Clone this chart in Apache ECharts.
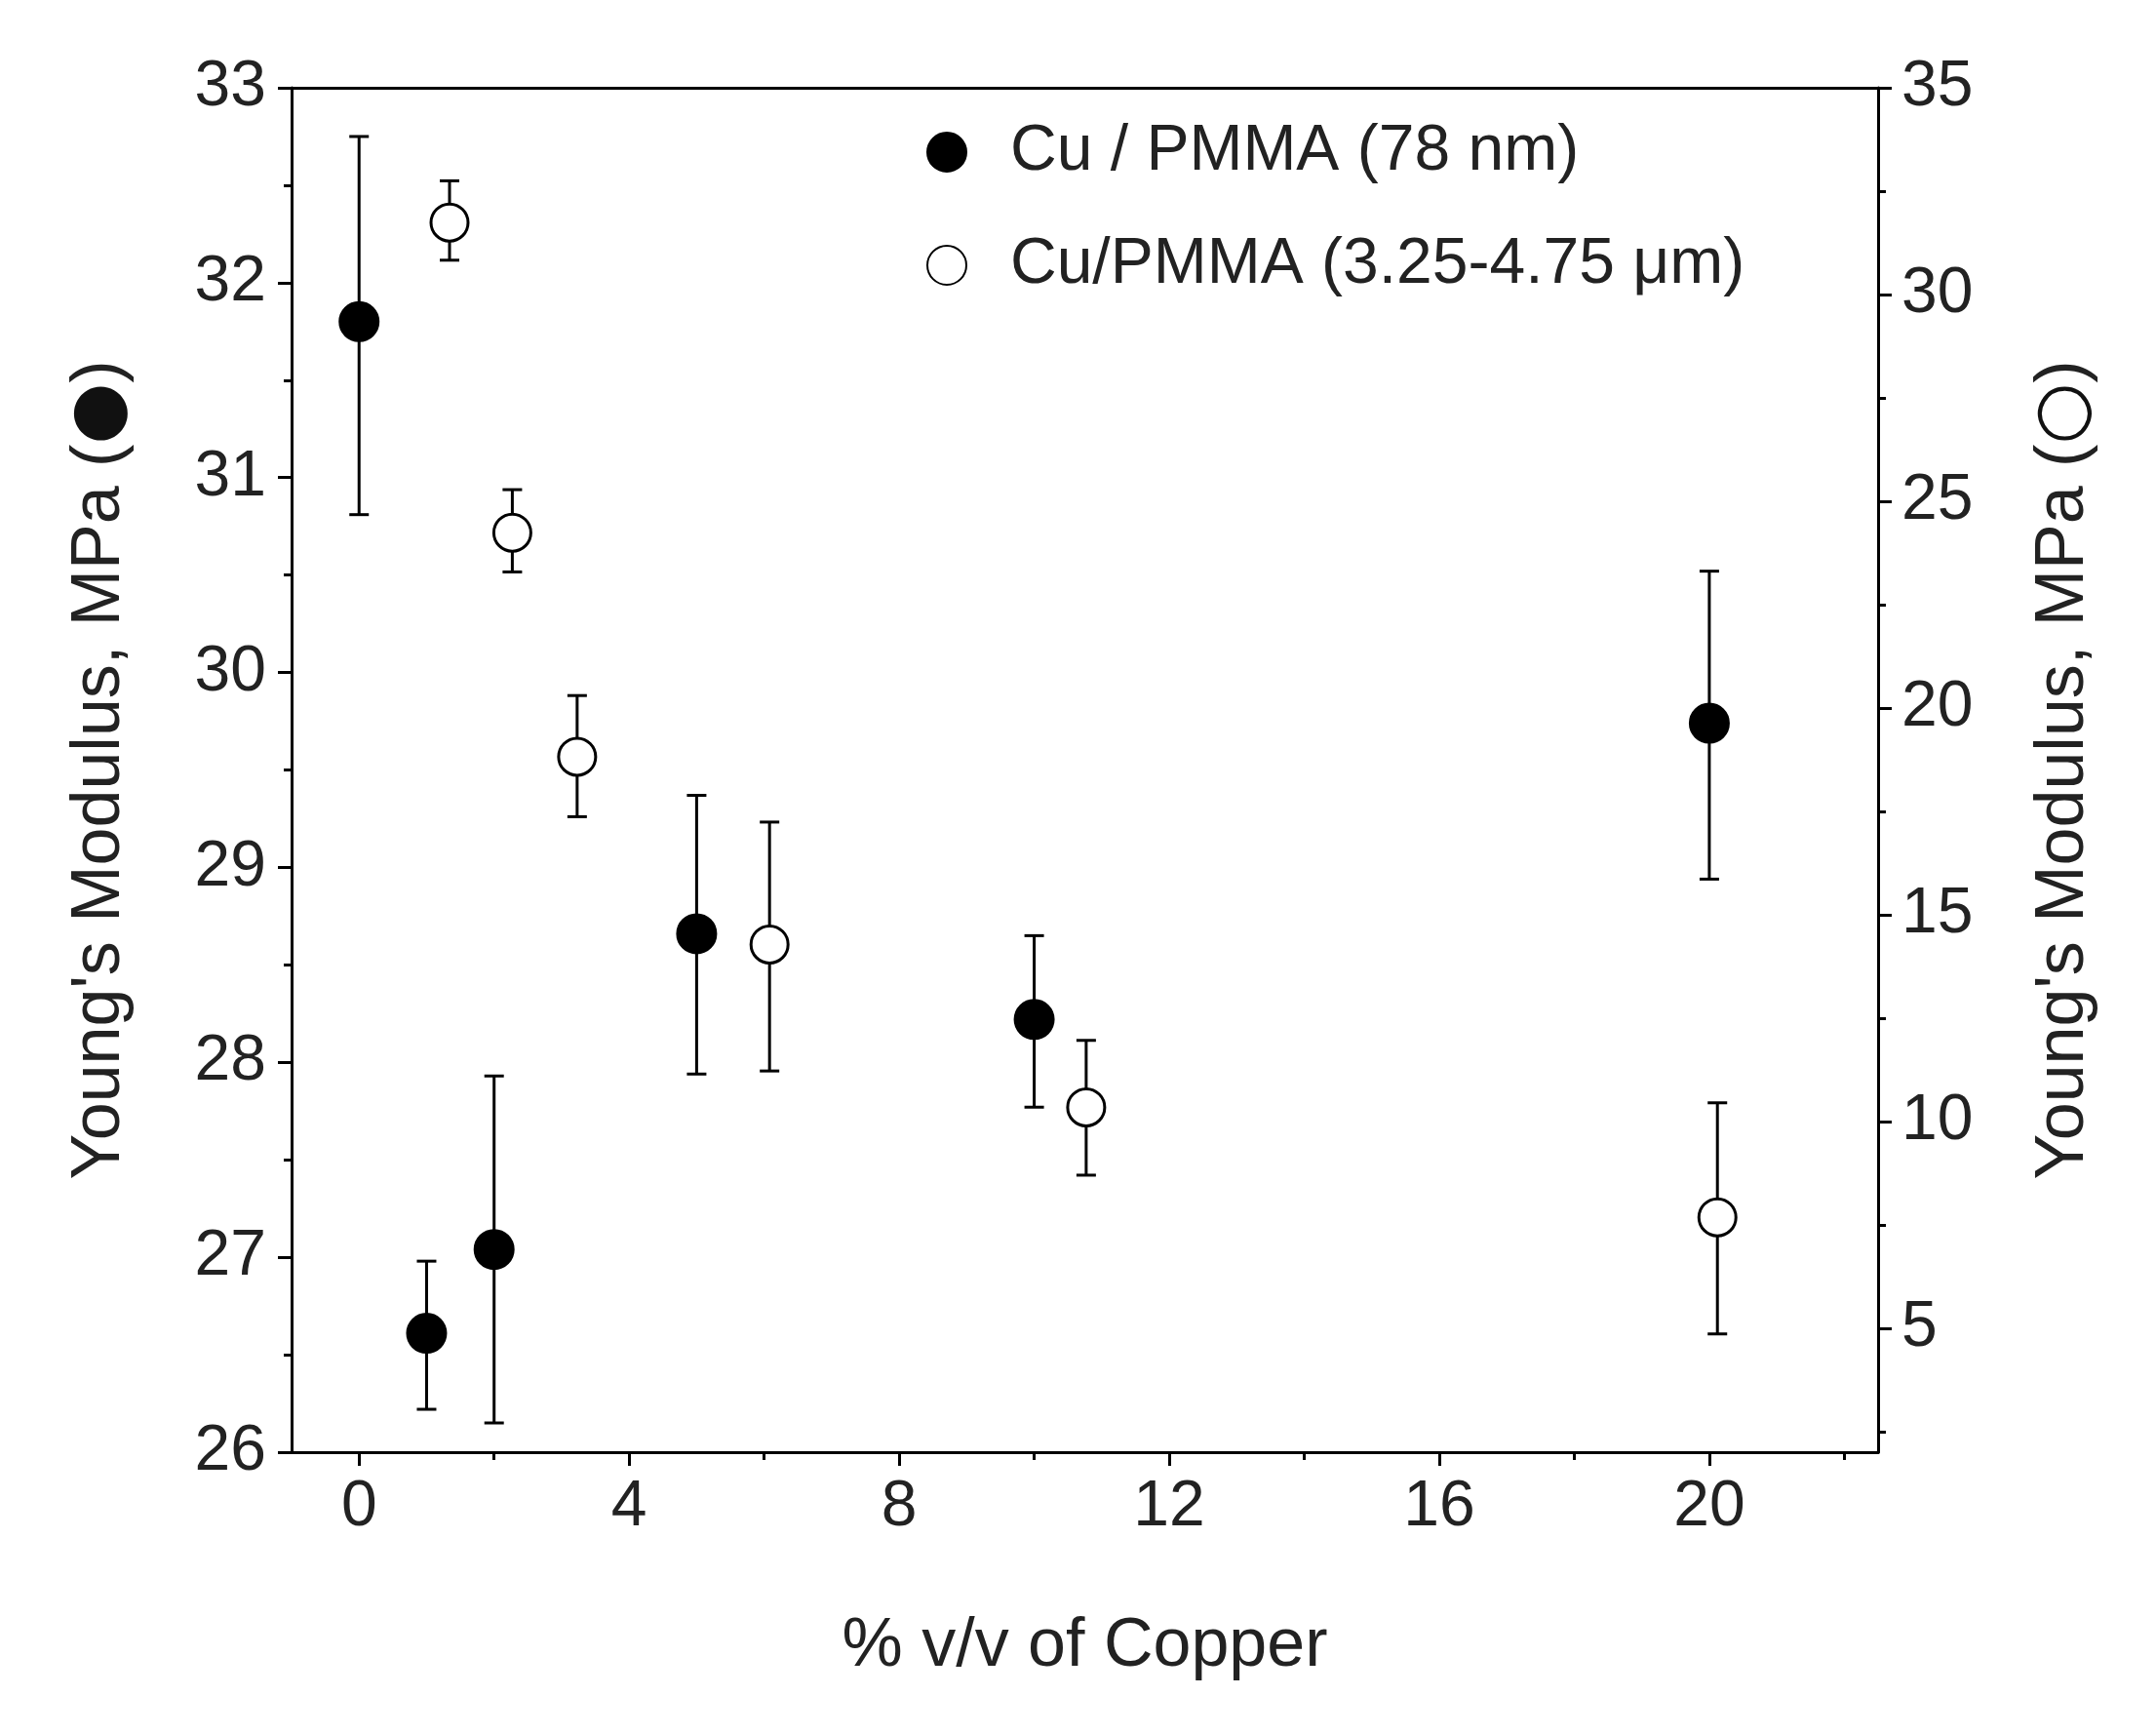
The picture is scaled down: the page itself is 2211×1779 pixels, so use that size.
<!DOCTYPE html>
<html><head><meta charset="utf-8">
<script src="https://cdn.jsdelivr.net/npm/echarts@6/dist/echarts.min.js"></script>
<style>html,body{margin:0;padding:0;background:#fff}#c{width:2211px;height:1779px}</style>
</head><body><div id="c"></div>
<script>
const filledX = [0, 1, 2, 5, 10, 20];
const filledY = [31.80, 26.61, 27.04, 28.66, 28.22, 29.74];
const filledHi = [32.75, 26.98, 27.93, 29.37, 28.65, 30.52];
const filledLo = [30.81, 26.22, 26.15, 27.94, 27.77, 28.94];
const openX = [1.34, 2.27, 3.23, 6.08, 10.77, 20.12];
const openY = [31.74, 24.24, 18.82, 14.28, 10.34, 7.68];
const openHi = [32.75, 25.28, 20.30, 17.24, 11.96, 10.45];
const openLo = [30.83, 23.29, 17.37, 11.22, 8.70, 4.86];
const xTickLabels = [0, 4, 8, 12, 16, 20];
const xMinorTicks = [2, 6, 10, 14, 18, 22];
const rightLabels = [5, 10, 15, 20, 25, 30, 35];
const rightMinor = [2.5, 7.5, 12.5, 17.5, 22.5, 27.5, 32.5];
const legendNames = ['Cu / PMMA (78 nm)', 'Cu/PMMA (3.25-4.75 \u03bcm)'];

const F = 'Liberation Sans, Arial, sans-serif';
const chart = echarts.init(document.getElementById('c'));
function errSeries(xs, his, los, yi) {
  return {
    type: 'custom', yAxisIndex: yi, z: 2, silent: true,
    data: xs.map((x, i) => [x, los[i], his[i]]),
    renderItem: (p, api) => {
      const a = api.coord([api.value(0), api.value(1)]);
      const b = api.coord([api.value(0), api.value(2)]);
      const w = 10;
      const st = {stroke: '#000', lineWidth: 3};
      return {type: 'group', children: [
        {type: 'line', shape: {x1: a[0], y1: a[1], x2: b[0], y2: b[1]}, style: st},
        {type: 'line', shape: {x1: a[0]-w, y1: a[1], x2: a[0]+w, y2: a[1]}, style: st},
        {type: 'line', shape: {x1: b[0]-w, y1: b[1], x2: b[0]+w, y2: b[1]}, style: st}
      ]};
    }
  };
}
const axLine = {show: true, onZero: false, lineStyle: {color: '#000', width: 3}};
const noLine = {show: false, onZero: false};
const titleStyle = {fontFamily: F, fontSize: 70, color: '#222',
  rich: {s: {fontFamily: 'DejaVu Sans', fontSize: 72, color: '#111'}}};
chart.setOption({
  animation: false,
  backgroundColor: '#fff',
  grid: {left: 299, right: 285, top: 90, bottom: 290},
  legend: {
    orient: 'vertical', left: 945, top: 118, itemGap: 50, itemWidth: 40, itemHeight: 40,
    textStyle: {fontFamily: F, fontSize: 66, color: '#222', padding: [0, 0, 0, 40]},
    data: [{name: legendNames[0], icon: 'circle'}, {name: legendNames[1], icon: 'circle'}]
  },
  xAxis: [{
    type: 'value', min: -1, max: 22.5,
    name: '% v/v of Copper', nameLocation: 'middle', nameGap: 165,
    nameTextStyle: {fontFamily: F, fontSize: 70, color: '#222'},
    axisLine: axLine, splitLine: {show: false},
    axisTick: {show: true, inside: false, length: 14, lineStyle: {width: 3, color: '#000'}, customValues: xTickLabels},
    axisLabel: {fontFamily: F, fontSize: 66, color: '#222', margin: 24, customValues: xTickLabels}
  }, {
    type: 'value', min: -1, max: 22.5, position: 'bottom',
    axisLine: noLine, splitLine: {show: false}, axisLabel: {show: false},
    axisTick: {show: true, length: 8, lineStyle: {width: 3, color: '#000'}, customValues: xMinorTicks}
  }, {
    type: 'value', min: -1, max: 22.5, position: 'top',
    axisLine: axLine, splitLine: {show: false}, axisLabel: {show: false}, axisTick: {show: false}
  }],
  yAxis: [{
    type: 'value', min: 26, max: 33, interval: 1, position: 'left',
    name: "Young's Modulus, MPa ({s|\u25CF})", nameLocation: 'middle', nameGap: 160,
    nameTextStyle: titleStyle,
    axisLine: axLine, splitLine: {show: false},
    axisTick: {length: 14, lineStyle: {width: 3, color: '#000'}},
    minorTick: {show: true, splitNumber: 2, length: 8, lineStyle: {width: 3, color: '#000'}},
    axisLabel: {fontFamily: F, fontSize: 66, color: '#222', margin: 26}
  }, {
    type: 'value', min: 2, max: 35, position: 'right',
    name: "Young's Modulus, MPa ({s|\u25CB})", nameLocation: 'middle', nameGap: 155, nameRotate: 90,
    nameTextStyle: titleStyle,
    axisLine: axLine, splitLine: {show: false},
    axisTick: {length: 14, lineStyle: {width: 3, color: '#000'}, customValues: rightLabels},
    axisLabel: {fontFamily: F, fontSize: 66, color: '#222', margin: 24, customValues: rightLabels}
  }, {
    type: 'value', min: 2, max: 35, position: 'right', offset: 0,
    axisLine: noLine, splitLine: {show: false}, axisLabel: {show: false},
    axisTick: {show: true, length: 8, lineStyle: {width: 3, color: '#000'}, customValues: rightMinor}
  }],
  series: [
    errSeries(filledX, filledHi, filledLo, 0),
    errSeries(openX, openHi, openLo, 1),
    {name: legendNames[0], type: 'scatter', yAxisIndex: 0, z: 5, symbol: 'circle', symbolSize: 40,
     itemStyle: {color: '#000', borderColor: '#000', borderWidth: 2, opacity: 1},
     data: filledX.map((x, i) => [x, filledY[i]])},
    {name: legendNames[1], type: 'scatter', yAxisIndex: 1, z: 5, symbol: 'circle', symbolSize: 38,
     itemStyle: {color: '#fff', borderColor: '#000', borderWidth: 3, opacity: 1},
     data: openX.map((x, i) => [x, openY[i]])}
  ]
});
</script></body></html>
